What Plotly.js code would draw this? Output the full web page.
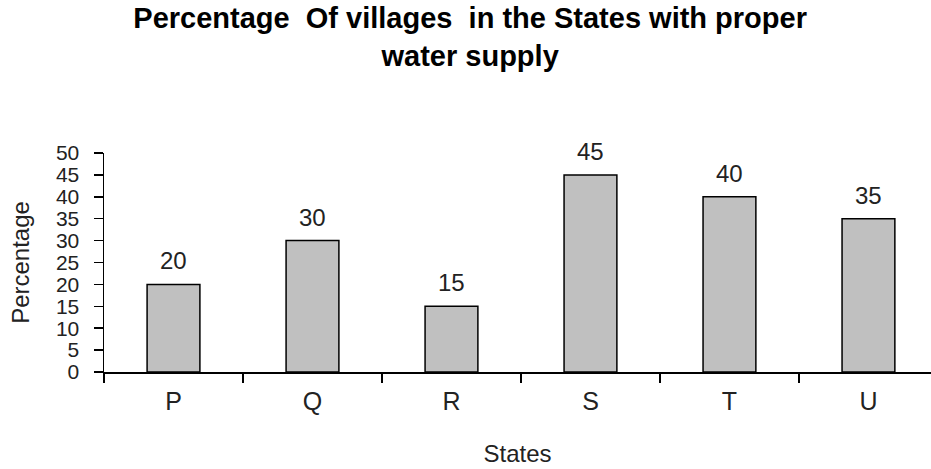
<!DOCTYPE html>
<html>
<head>
<meta charset="utf-8">
<script src="https://cdn.plot.ly/plotly-3.0.1.min.js"></script>
<style>html,body{margin:0;padding:0;background:#fff;}#chart{width:931px;height:469px;}</style>
</head>
<body>
<div id="chart"></div>
<script>
const states = ["P", "Q", "R", "S", "T", "U"];
const percentages = [20, 30, 15, 45, 40, 35];
const yTickValues = [0, 5, 10, 15, 20, 25, 30, 35, 40, 45, 50];

const FONT = "Liberation Sans, Arial, sans-serif";

const trace = {
  type: "bar",
  x: states,
  y: percentages,
  width: 0.38,
  marker: { color: "#c0c0c0", line: { color: "#000", width: 1.5 } },
  hoverinfo: "x+y"
};

const annotations = states.map((s, i) => ({
  x: s, y: percentages[i], xref: "x", yref: "y",
  text: String(percentages[i]), showarrow: false,
  yanchor: "bottom", yshift: 8,
  font: { family: FONT, size: 24, color: "#222" }
}));

const layout = {
  width: 931, height: 469,
  margin: { l: 104, r: 0, t: 153, b: 97 },
  paper_bgcolor: "#fff", plot_bgcolor: "#fff",
  showlegend: false,
  title: {
    text: "<b>Percentage  Of villages  in the States with proper<br>water supply</b>",
    x: 0.505, xref: "container", xanchor: "center",
    y: 0.94, yref: "container", yanchor: "top",
    font: { family: FONT, size: 29, color: "#000" }
  },
  xaxis: {
    type: "category",
    range: [-0.5, 5.45],
    showline: true, linecolor: "#000", linewidth: 1.5,
    ticks: "outside", tickson: "boundaries", ticklen: 9, tickcolor: "#000", tickwidth: 1.5,
    showgrid: false, zeroline: false,
    ticklabelstandoff: 6,
    tickfont: { family: FONT, size: 25, color: "#222" },
    title: { text: "States", font: { family: FONT, size: 24, color: "#222" }, standoff: 31 }
  },
  yaxis: {
    range: [0, 50],
    tickmode: "array", tickvals: yTickValues, ticktext: yTickValues.map(String),
    showline: true, linecolor: "#000", linewidth: 1.5,
    ticks: "outside", ticklen: 9, tickcolor: "#000", tickwidth: 1.5,
    showgrid: false, zeroline: false,
    ticklabelstandoff: 10,
    tickfont: { family: FONT, size: 21, color: "#222" },
    title: { text: "Percentage", font: { family: FONT, size: 24, color: "#222" }, standoff: 19 }
  },
  annotations: annotations
};

Plotly.newPlot("chart", [trace], layout, { displayModeBar: false, staticPlot: true });
</script>
</body>
</html>
